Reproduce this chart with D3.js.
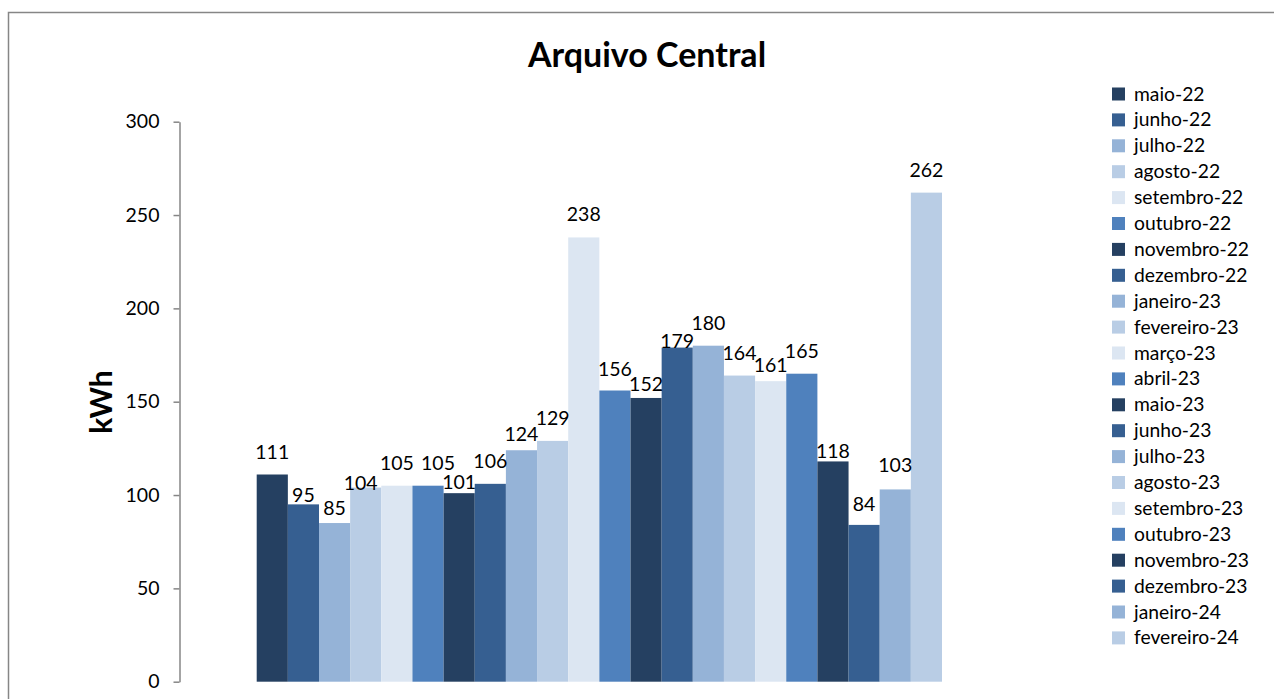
<!DOCTYPE html>
<html>
<head>
<meta charset="utf-8">
<script src="https://cdn.jsdelivr.net/npm/d3@7"></script>
<style>
  body { margin: 0; background: #fff; }
  text { font-family: Lato, "Open Sans", sans-serif; fill: #000; }
</style>
</head>
<body>
<div id="chart"></div>
<script>
// data
var months = ['maio-22', 'junho-22', 'julho-22', 'agosto-22', 'setembro-22', 'outubro-22',
  'novembro-22', 'dezembro-22', 'janeiro-23', 'fevereiro-23', 'março-23', 'abril-23',
  'maio-23', 'junho-23', 'julho-23', 'agosto-23', 'setembro-23', 'outubro-23',
  'novembro-23', 'dezembro-23', 'janeiro-24', 'fevereiro-24'];
var kwh = [111, 95, 85, 104, 105, 105, 101, 106, 124, 129, 238, 156,
  152, 179, 180, 164, 161, 165, 118, 84, 103, 262];
var yTicks = [0, 50, 100, 150, 200, 250, 300];

// the labels were nudged by hand in the original (px above the bar / sideways)
var labelGap = [23, 9, 15, 5, 23, 23, 11, 23, 16, 23, 23, 22,
  14, 7, 23, 23, 16, 23, 10, 21, 24, 23];
var labelDx = [0, 0, 0, -5, 0, 10, 0, 0, 0, 0, 0, 0,
  0, 0, 0, 0, 0, 0, 0, 0, 0, 0];

var palette = ['#254061', '#365f91', '#95b3d7', '#b9cde5', '#dce6f2', '#4f81bd'];

var svg = d3.select('#chart').append('svg')
  .attr('width', 1274)
  .attr('height', 699);

// chart border (runs off the page on the right and bottom)
svg.append('rect')
  .attr('x', 8.5).attr('y', 12.5)
  .attr('width', 1400).attr('height', 900)
  .attr('fill', 'none')
  .attr('stroke', '#868686')
  .attr('stroke-width', 1.5);

svg.append('text')
  .attr('x', 647).attr('y', 67)
  .attr('text-anchor', 'middle')
  .style('font-size', '34px')
  .style('font-weight', 'bold')
  .text('Arquivo Central');

var y = d3.scaleLinear().domain([0, 300]).range([681.7, 121.7]);
var x = d3.scaleBand().domain(months).range([256.7, 942]).padding(0);

var yAxis = svg.append('g')
  .attr('transform', 'translate(179.5,0)')
  .call(d3.axisLeft(y).tickValues(yTicks).tickSize(6).tickSizeOuter(0).tickPadding(14));
yAxis.select('.domain').attr('stroke', '#868686').attr('stroke-width', 1.5);
yAxis.selectAll('.tick line').attr('stroke', '#868686').attr('stroke-width', 1.5);
yAxis.selectAll('.tick text')
  .style('font-family', 'Lato, sans-serif')
  .style('font-size', '19.5px')
  .attr('fill', '#000');

svg.append('text')
  .attr('transform', 'translate(112,402) rotate(-90)')
  .attr('text-anchor', 'middle')
  .style('font-size', '30px')
  .style('font-weight', 'bold')
  .text('kWh');

svg.selectAll('.bar')
  .data(kwh)
  .enter().append('rect')
  .attr('class', 'bar')
  .attr('x', function(d, i) { return x(months[i]); })
  .attr('y', function(d) { return y(d); })
  .attr('width', x.bandwidth())
  .attr('height', function(d) { return y(0) - y(d); })
  .attr('fill', function(d, i) { return palette[i % palette.length]; });

svg.selectAll('.lbl')
  .data(kwh)
  .enter().append('text')
  .attr('class', 'lbl')
  .attr('x', function(d, i) { return x(months[i]) + x.bandwidth() / 2 + labelDx[i]; })
  .attr('y', function(d, i) { return y(d) - labelGap[i] + 7; })
  .attr('text-anchor', 'middle')
  .style('font-size', '19.5px')
  .text(function(d) { return d; });

// legend
var legend = svg.selectAll('.leg')
  .data(months)
  .enter().append('g')
  .attr('class', 'leg')
  .attr('transform', function(d, i) { return 'translate(1112,' + (94 + i * 25.9) + ')'; });
legend.append('rect')
  .attr('x', 0).attr('y', -6.5)
  .attr('width', 13).attr('height', 13)
  .attr('fill', function(d, i) { return palette[i % palette.length]; });
legend.append('text')
  .attr('x', 22).attr('y', 6.5)
  .style('font-size', '19.3px')
  .text(function(d) { return d; });
</script>
</body>
</html>
